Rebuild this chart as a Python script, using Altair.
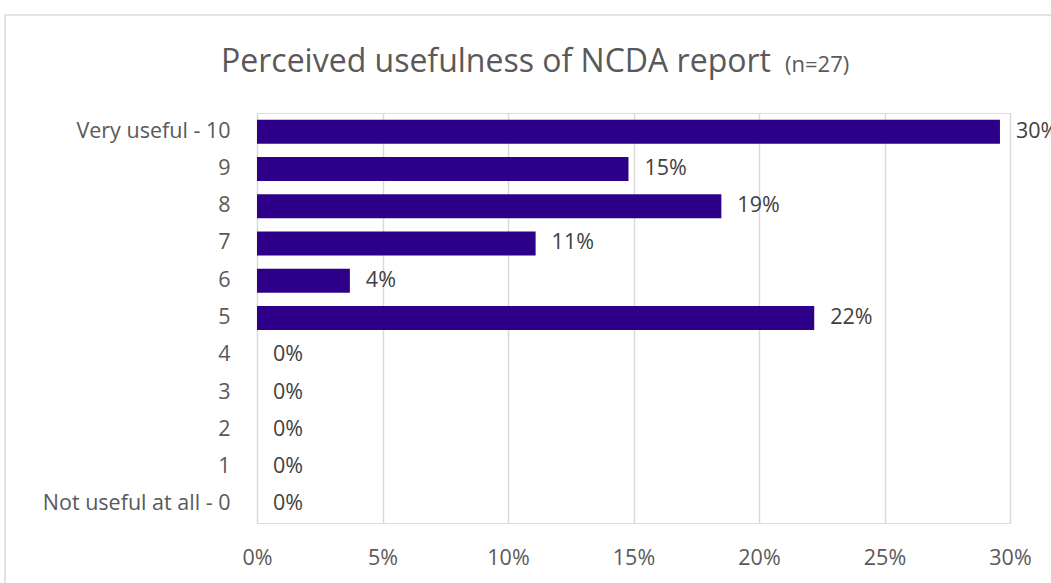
import altair as alt
import pandas as pd

categories = ["Very useful - 10", "9", "8", "7", "6", "5", "4", "3", "2", "1", "Not useful at all - 0"]
shares = [0.296, 0.148, 0.185, 0.111, 0.037, 0.222, 0.0, 0.0, 0.0, 0.0, 0.0]
x_ticks = [0, 0.05, 0.10, 0.15, 0.20, 0.25, 0.30]
title_main = "Perceived usefulness of NCDA report"
title_note = "(n=27)"

df = pd.DataFrame({"category": categories, "share": shares})

FONT = "Open Sans"
GREY = "#595959"
BAR = "#2E0089"
FS = 21.5

x_enc = alt.X("share:Q",
              scale=alt.Scale(domain=[0, 0.30], nice=False, clamp=False),
              axis=alt.Axis(values=x_ticks, format=".0%", title=None, domain=False, ticks=False,
                            labelFont=FONT, labelFontSize=FS, labelColor=GREY, labelPadding=24,
                            gridColor="#d9d9d9", gridWidth=1.5, labelFlush=False))
y_enc = alt.Y("category:N", sort=categories,
              scale=alt.Scale(paddingInner=0.35, paddingOuter=0.175),
              axis=alt.Axis(title=None, domain=False, ticks=False, grid=False, labelLimit=400,
                            labelFont=FONT, labelFontSize=FS, labelColor=GREY, labelPadding=27))

bars = alt.Chart(df).mark_bar(color=BAR, size=24).encode(x=x_enc, y=y_enc)
labels = alt.Chart(df).mark_text(align="left", baseline="middle", dx=16, font=FONT,
                                 fontSize=FS, color="#404040").encode(
    x="share:Q", y=alt.Y("category:N", sort=categories),
    text=alt.Text("share:Q", format=".0%"))

one = alt.Data(values=[{}])
border_top = alt.Chart(one).mark_rule(color="#d9d9d9", strokeWidth=1.5).encode(
    x=alt.value(-252), x2=alt.value(900), y=alt.value(-98))
border_left = alt.Chart(one).mark_rule(color="#d9d9d9", strokeWidth=1.5).encode(
    x=alt.value(-252), y=alt.value(-98), y2=alt.value(600))
t_main = alt.Chart(one).mark_text(align="left", baseline="alphabetic", font=FONT, fontSize=32,
                                  color=GREY, text=title_main).encode(
    x=alt.value(221 - 257), y=alt.value(72 - 113))
t_note = alt.Chart(one).mark_text(align="left", baseline="alphabetic", font=FONT, fontSize=22,
                                  color=GREY, text=title_note).encode(
    x=alt.value(785 - 257), y=alt.value(72 - 113))

chart = alt.layer(border_top, border_left, bars, labels, t_main, t_note).properties(
    width=753, height=410,
    autosize=alt.AutoSizeParams(type="none"),
    padding={"left": 257, "top": 113, "right": 41, "bottom": 60},
).configure_view(stroke=None).configure(background="white")

chart.save("out.html", embed_options={"renderer": "svg", "actions": False})
